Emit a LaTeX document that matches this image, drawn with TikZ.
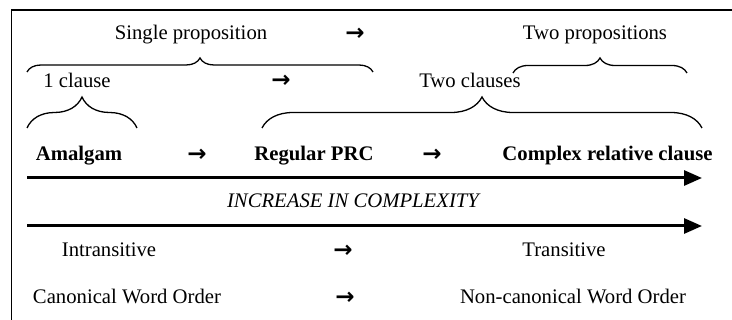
\documentclass[tikz,border=0pt]{standalone}
\usepackage{fontspec}
\setmainfont{Liberation Serif}
\newfontfamily\flechafont{DejaVu Sans}
\definecolor{tinta}{HTML}{000000}
\usetikzlibrary{arrows.meta, decorations.pathreplacing}

\begin{document}
\begin{tikzpicture}[x=1pt, y=-1pt,
  txt/.style={anchor=base, inner sep=0pt, text=tinta, font=\fontsize{20.7}{24}\selectfont},
  negrita/.style={txt, font=\fontsize{20.7}{24}\selectfont\bfseries},
  sig/.style={txt, font=\flechafont\fontsize{23}{24}\selectfont\bfseries},
  llave/.style={draw=tinta, line width=1.3pt, decorate, decoration={brace, amplitude=#1}},
  flecha/.style={draw=tinta, line width=3pt, -{Triangle[length=18pt, width=15pt]}}]
\useasboundingbox (0,0) rectangle (732,320);
% marco
\draw[tinta, line width=1.5pt] (732,10) -- (11.5,10) -- (11.5,320);

% proposiciones
\node[txt] (single) at (191,40) {Single proposition};
\node[sig] (fprop) at (355,41) {→};
\node[txt] (twoprop) at (595,40) {Two propositions};
\coordinate (single-a) at (27,72);
\coordinate (single-b) at (373,72);
\coordinate (twoprop-a) at (513,73);
\coordinate (twoprop-b) at (687,73);
\draw[llave=14pt] (single-a) -- (single-b);
\draw[llave=15pt] (twoprop-a) -- (twoprop-b);

% clausulas
\node[txt] (oneclause) at (77,88) {1 clause};
\node[sig] (fclause) at (281,88) {→};
\node[txt] (twoclause) at (470,88) {Two clauses};
\coordinate (oneclause-a) at (27,128);
\coordinate (oneclause-b) at (137,128);
\coordinate (twoclause-a) at (262,128);
\coordinate (twoclause-b) at (702,128);
\draw[llave=31pt] (oneclause-a) -- (oneclause-b);
\draw[llave=31pt] (twoclause-a) -- (twoclause-b);

% construcciones
\node[negrita] (amalgam) at (79,161) {Amalgam};
\node[sig] (fa) at (197,162) {→};
\node[negrita] (regular) at (314,161) {Regular PRC};
\node[sig] (fb) at (432,162) {→};
\node[negrita] (complex) at (607.5,161) {Complex relative clause};

% complejidad
\coordinate (eje1-a) at (27,178);
\coordinate (eje1-b) at (702,178);
\draw[flecha] (eje1-a) -- (eje1-b);
\node[txt, font=\fontsize{20.7}{24}\selectfont\itshape] (increase) at (353,208) {INCREASE IN COMPLEXITY};
\coordinate (eje2-a) at (27,226);
\coordinate (eje2-b) at (702,226);
\draw[flecha] (eje2-a) -- (eje2-b);

% transitividad y orden
\node[txt] (intrans) at (109,257) {Intransitive};
\node[sig] (ftrans) at (343,258) {→};
\node[txt] (trans) at (564,257) {Transitive};
\node[txt] (canon) at (127,304) {Canonical Word Order};
\node[sig] (forder) at (345,305) {→};
\node[txt] (noncanon) at (573,304) {Non-canonical Word Order};
\end{tikzpicture}
\end{document}
